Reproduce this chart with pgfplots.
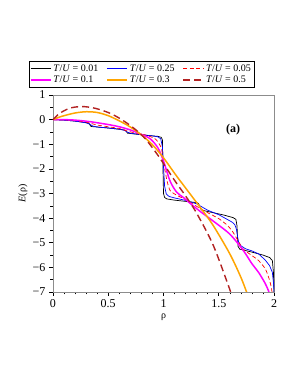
\documentclass[border=0pt]{standalone}
\usepackage{fontspec}
\setmainfont{Liberation Serif}
\usepackage{pgfplots}
\pgfplotsset{compat=1.18}
\definecolor{cbrown}{RGB}{178,34,34}
\definecolor{corange}{RGB}{255,165,0}
\definecolor{cmagenta}{RGB}{255,0,255}
\definecolor{cred}{RGB}{255,0,0}
\definecolor{cblue}{RGB}{0,0,255}
\begin{document}
\begin{tikzpicture}[x=1pt,y=1pt]
\useasboundingbox (-53,-93) rectangle (245,292);
\begin{axis}[
  at={(0,0)}, anchor=south west,
  scale only axis, width=221pt, height=197pt,
  xmin=0, xmax=2, ymin=-7, ymax=1,
  xtick={0,0.5,1,1.5,2}, xticklabels={0,0.5,1,1.5,2},
  ytick={-7,-6,-5,-4,-3,-2,-1,0,1},
  yticklabels={−7,−6,−5,−4,−3,−2,−1,0,1},
  minor x tick num=4, minor y tick num=1,
  tick align=outside, xtick pos=left, ytick pos=left,
  major tick length=4pt, minor tick length=2.5pt,
  tick style={black, line width=0.6pt},
  axis line style={gray!90, line width=0.8pt},
  ticklabel style={font=\fontsize{12}{12}\selectfont},
  xlabel={ρ}, ylabel={\textit{E}(ρ)},
  label style={font=\fontsize{13}{13}\selectfont},
  every axis x label/.style={at={(axis description cs:0.5,-0.127)}, anchor=center},
  every axis y label/.style={at={(axis description cs:-0.136,0.5)}, rotate=90, anchor=center},
  legend columns=3,
  legend style={at={(axis description cs:0.40,1.04)}, anchor=south, draw=black,
    font=\fontsize{10}{10}\selectfont, inner sep=1pt, row sep=-1pt,
    /tikz/every even column/.append style={column sep=6pt}},
  legend cell align=left,
  legend image code/.code={\draw[#1] plot coordinates {(0pt,0pt) (10pt,0pt) (20pt,0pt)};},
  clip=true,
]
% T/U = 0.01
\addplot[black, line width=0.7pt] coordinates {
(0,0) (0.1,-0.02) (0.2,-0.06) (0.3,-0.12) (0.325,-0.15) (0.335,-0.22) (0.345,-0.28)
(0.4,-0.30) (0.5,-0.34) (0.6,-0.39) (0.655,-0.43) (0.665,-0.49) (0.675,-0.55)
(0.75,-0.59) (0.85,-0.64) (0.95,-0.68) (0.98,-0.72) (0.99,-0.82) (0.995,-1.9)
(1.0,-3.0) (1.01,-3.16) (1.03,-3.22) (1.1,-3.27) (1.2,-3.32) (1.3,-3.37)
(1.315,-3.40) (1.325,-3.48) (1.335,-3.62) (1.35,-3.68) (1.45,-3.78) (1.55,-3.88)
(1.63,-3.98) (1.655,-4.05) (1.665,-4.3) (1.67,-4.8) (1.675,-5.15) (1.69,-5.26)
(1.8,-5.38) (1.9,-5.5) (1.96,-5.6) (1.985,-5.72) (1.995,-6.2) (2.0,-7)};
\addlegendentry{\textit{T}/\textit{U} = 0.01}
% T/U = 0.25 (blue)
\addplot[cblue, line width=0.7pt] coordinates {
(0,0) (0.1,-0.02) (0.2,-0.06) (0.3,-0.13) (0.33,-0.18) (0.36,-0.26) (0.4,-0.3)
(0.5,-0.34) (0.6,-0.39) (0.645,-0.43) (0.67,-0.5) (0.7,-0.55) (0.8,-0.61) (0.9,-0.66)
(0.95,-0.7) (0.975,-0.78) (0.99,-1.1) (1.0,-1.9) (1.01,-2.7) (1.025,-3.02) (1.05,-3.12) (1.1,-3.18) (1.2,-3.28)
(1.3,-3.42) (1.4,-3.68) (1.5,-3.86) (1.556,-4.0) (1.62,-4.16) (1.645,-4.26) (1.66,-4.45)
(1.67,-4.75) (1.68,-4.98) (1.7,-5.12) (1.74,-5.24) (1.8,-5.33) (1.86,-5.45) (1.92,-5.7) (1.96,-5.93)
(1.985,-6.2) (1.997,-6.7) (2.0,-7)};
\addlegendentry{\textit{T}/\textit{U} = 0.25}
% T/U = 0.05 (red dashed)
\addplot[cred, line width=0.7pt, dash pattern=on 4pt off 2.5pt, smooth, tension=0.4] coordinates {
(0,0) (0.1,-0.01) (0.2,-0.04) (0.3,-0.1) (0.35,-0.16) (0.4,-0.22) (0.5,-0.29) (0.6,-0.36)
(0.67,-0.46) (0.75,-0.55) (0.85,-0.64) (0.93,-0.8) (0.98,-1.15) (1.0,-1.7) (1.03,-2.45)
(1.06,-2.88) (1.12,-3.07) (1.2,-3.25) (1.3,-3.52) (1.4,-3.78) (1.5,-4.02) (1.58,-4.3)
(1.63,-4.58) (1.67,-4.88) (1.72,-5.25) (1.8,-5.52) (1.86,-5.72) (1.92,-6.05) (1.955,-6.45)
(1.975,-6.8) (1.985,-7.1)};
\addlegendentry{\textit{T}/\textit{U} = 0.05}
% T/U = 0.1 (magenta)
\addplot[cmagenta, line width=1.5pt, smooth] coordinates {
(0,0) (0.1,0.0) (0.2,-0.02) (0.33,-0.08) (0.5,-0.2) (0.6,-0.29) (0.7,-0.42) (0.8,-0.6)
(0.88,-0.78) (0.95,-1.15) (1.0,-1.68) (1.06,-2.5) (1.12,-2.95) (1.18,-3.16) (1.225,-3.34)
(1.33,-3.72) (1.45,-4.12) (1.6,-4.65) (1.72,-5.3) (1.8,-5.85) (1.86,-6.2) (1.92,-6.65)
(1.95,-6.95) (1.96,-7.1)};
\addlegendentry{\textit{T}/\textit{U} = 0.1}
% T/U = 0.3 (orange)
\addplot[corange, line width=1.5pt, smooth] coordinates {
(0,0) (0.05,0.09) (0.1,0.16) (0.2,0.27) (0.3,0.32) (0.4,0.29) (0.5,0.16) (0.6,-0.05)
(0.7,-0.3) (0.8,-0.62) (0.9,-1.02) (1.0,-1.55) (1.12,-2.3) (1.33,-3.55) (1.45,-4.3)
(1.6,-5.45) (1.7,-6.4) (1.76,-7.1)};
\addlegendentry{\textit{T}/\textit{U} = 0.3}
% T/U = 0.5 (brown dashed)
\addplot[cbrown, line width=1.4pt, dash pattern=on 7pt off 4pt, smooth] coordinates {
(0,0) (0.05,0.22) (0.1,0.36) (0.15,0.46) (0.2,0.51) (0.27,0.53) (0.35,0.49) (0.43,0.4)
(0.52,0.25) (0.6,0.06) (0.7,-0.24) (0.82,-0.7) (0.95,-1.45) (1.09,-2.4) (1.2,-3.1)
(1.3,-3.8) (1.45,-5.1) (1.6,-6.9) (1.62,-7.2)};
\addlegendentry{\textit{T}/\textit{U} = 0.5}
\node[font=\bfseries\fontsize{12}{12}\selectfont] at (axis cs:1.63,-0.42) {(a)};
\end{axis}
\end{tikzpicture}
\end{document}
